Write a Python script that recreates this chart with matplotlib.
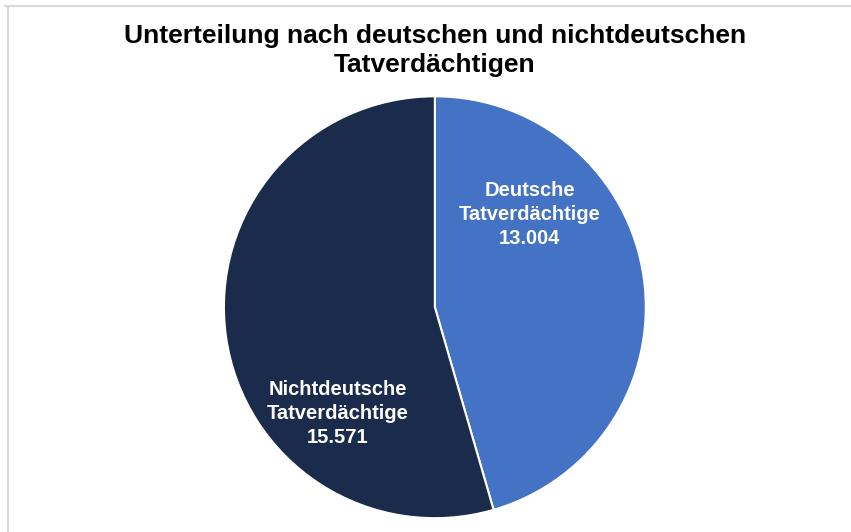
import matplotlib.pyplot as plt
from matplotlib.lines import Line2D

# Daten
categories = ["Deutsche\nTatverdächtige", "Nichtdeutsche\nTatverdächtige"]
values = [13004, 15571]
colors = ["#4472C4", "#1A2B4C"]
title = "Unterteilung nach deutschen und nichtdeutschen\nTatverdächtigen"

# Beschriftungspositionen (Datenkoordinaten des Kreises)
label_pos = [(0.45, 0.44), (-0.46, -0.505)]


def fmt_de(n):
    return f"{n:,}".replace(",", ".")


plt.rcParams["font.family"] = ["Liberation Sans", "DejaVu Sans"]

fig = plt.figure(figsize=(8.51, 5.32), dpi=100)
ax = fig.add_axes([0.263, 0.026, 0.496, 0.793])

wedges, _ = ax.pie(values, colors=colors, startangle=90, counterclock=False,
                   wedgeprops=dict(edgecolor="white", linewidth=1.5))
for (x, y), c, v in zip(label_pos, categories, values):
    ax.text(x, y, f"{c}\n{fmt_de(v)}", ha="center", va="center", color="white",
            fontsize=14.5, fontweight="bold", linespacing=1.32)
ax.set_xlim(-1, 1)
ax.set_ylim(-1, 1)
ax.set_aspect("equal")

fig.text(0.511, 0.905, title, ha="center", va="center", fontsize=19,
         fontweight="bold", linespacing=1.28)

# Rahmen oben und links
fig.add_artist(Line2D([5 / 851, 1], [1 - 5.5 / 532] * 2, transform=fig.transFigure,
                      color="#D9D9D9", linewidth=1.5))
fig.add_artist(Line2D([7.5 / 851] * 2, [0, 1 - 5.5 / 532], transform=fig.transFigure,
                      color="#D9D9D9", linewidth=1.5))

fig.savefig("out.png", dpi=100)
